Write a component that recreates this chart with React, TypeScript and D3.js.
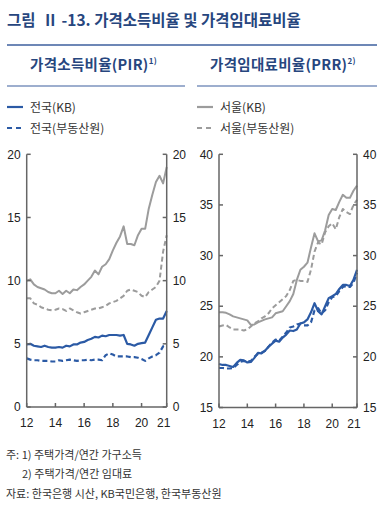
import * as d3 from "d3";

// 분기 라벨 (12Q1 ~ 21Q4)
const periods = d3.range(12, 22).flatMap((y) => [1, 2, 3, 4].map((q) => `${y}Q${q}`));
const xTickKeys = ["12Q1", "14Q1", "16Q1", "18Q1", "20Q1", "21Q4"];
const xTickLabels = ["12", "14", "16", "18", "20", "21"];

const pirTicks = [0, 5, 10, 15, 20];
const prrTicks = [15, 20, 25, 30, 35, 40];

// 가격소득비율(PIR)
const pirNationKB = [
  4.95, 5.0, 4.85, 4.8, 4.75, 4.85, 4.75, 4.7, 4.7, 4.75,
  4.7, 4.85, 4.8, 4.95, 4.95, 5.1, 5.15, 5.3, 5.4, 5.55,
  5.5, 5.65, 5.6, 5.7, 5.7, 5.7, 5.65, 5.7, 5.0, 4.95,
  4.85, 5.0, 5.05, 5.1, 5.7, 6.3, 6.9, 7.0, 7.0, 7.6,
];
const pirNationREB = [
  3.85, 3.75, 3.7, 3.7, 3.65, 3.65, 3.65, 3.6, 3.6, 3.7,
  3.65, 3.7, 3.75, 3.7, 3.65, 3.7, 3.7, 3.75, 3.7, 3.75,
  3.75, 3.7, 4.1, 4.25, 4.15, 4.0, 4.0, 4.0, 4.0, 3.95,
  3.95, 3.9, 3.8, 3.65, 3.85, 4.0, 4.1, 4.3, 4.8, 4.9,
];
const pirSeoulKB = [
  10.0, 10.1, 9.7, 9.5, 9.4, 9.3, 9.1, 9.0, 9.0, 9.2,
  8.95, 9.2, 9.0, 9.3, 9.25, 9.5, 9.7, 10.0, 10.3, 10.8,
  10.5, 11.1, 11.3, 11.7, 12.4, 13.0, 13.5, 14.3, 12.9, 12.9,
  12.8, 13.6, 14.1, 14.1, 15.7, 16.8, 17.8, 18.3, 17.7, 19.0,
];
const pirSeoulREB = [
  8.6, 8.6, 8.2, 8.1, 7.9, 7.8, 7.7, 7.65, 7.7, 7.8,
  7.75, 7.6, 7.8, 7.65, 7.5, 7.4, 7.5, 7.6, 7.7, 7.8,
  7.8, 7.9, 8.0, 8.2, 8.3, 8.4, 8.6, 8.8, 9.2, 9.3,
  9.2, 9.1, 8.8, 8.7, 9.1, 9.3, 9.5, 10.0, 12.3, 13.6,
];

// 가격임대료비율(PRR)
const prrNationKB = [
  19.3, 19.2, 19.2, 19.1, 19.0, 19.4, 19.7, 19.65, 19.45, 19.5,
  19.9, 20.4, 20.35, 20.6, 21.0, 21.3, 21.6, 21.5, 21.9, 22.2,
  22.6, 22.55, 22.7, 23.3, 23.4, 23.7, 24.4, 25.3, 24.5, 24.2,
  25.0, 25.8, 26.0, 26.2, 26.7, 27.1, 27.1, 27.0, 27.6, 28.6,
];
const prrNationREB = [
  18.9, 18.9, 18.85, 18.85, 18.9, 19.2, 19.5, 19.6, 19.5, 19.6,
  20.0, 20.3, 20.4, 20.6, 21.0, 21.4, 21.7, 21.6, 22.0, 22.4,
  22.9, 23.0, 23.2, 23.3, 23.1, 23.1, 23.4, 24.6, 24.8, 24.3,
  24.6, 25.4, 25.9, 26.0, 26.5, 26.9, 27.0, 26.9, 27.3, 28.3,
];
const prrSeoulKB = [
  24.4, 24.4, 24.35, 24.2, 24.0, 23.9, 23.8, 23.7, 23.6, 23.15,
  23.2, 23.4, 23.55, 23.7, 23.8, 23.9, 24.3, 24.4, 24.5, 25.0,
  25.5, 26.2, 27.6, 28.6, 28.9, 29.3, 30.8, 32.2, 31.4, 31.5,
  32.5, 34.0, 34.6, 34.5, 35.3, 36.0, 35.7, 35.7, 36.4, 36.9,
];
const prrSeoulREB = [
  23.0, 23.1, 23.15, 22.9, 22.7, 22.7, 22.7, 22.6, 22.7, 23.0,
  23.3, 23.5, 23.8, 24.0, 24.3, 24.8, 25.1, 25.4, 25.7, 26.0,
  26.6, 27.5, 27.6, 27.5, 27.5, 27.4, 28.6, 30.4, 31.3, 31.1,
  32.3, 32.9, 33.2, 32.6, 33.8, 34.6, 34.3, 34.1, 35.0, 35.5,
];

const BLUE = "#2b5aa5";
const GRAY = "#9c9c9c";
const NAVY = "#27467e";
const AXIS = "#666";
const KR = "'Noto Sans CJK KR', 'Noto Sans', sans-serif";
const NUM = "'Liberation Sans Narrow', 'Liberation Sans', Arial, sans-serif";

interface Series {
  values: number[];
  color: string;
  dashed: boolean;
}

interface PanelProps {
  x0: number;
  x1: number;
  yTop: number;
  yBottom: number;
  domain: [number, number];
  ticks: number[];
  series: Series[];
}

const Panel = ({ x0, x1, yTop, yBottom, domain, ticks, series }: PanelProps) => {
  const x = d3.scalePoint<string>().domain(periods).range([x0, x1]);
  const y = d3.scaleLinear().domain(domain).range([yBottom, yTop]);
  const line = d3
    .line<number>()
    .x((_, i) => x(periods[i])!)
    .y((d) => y(d));

  return (
    <g>
      {series.map((s, i) => (
        <path
          key={i}
          d={line(s.values) || ""}
          fill="none"
          stroke={s.color}
          strokeWidth={s.color === BLUE ? 2.2 : 2}
          strokeDasharray={s.dashed ? "5,3" : undefined}
          strokeLinejoin="round"
        />
      ))}
      {/* 축 */}
      <line x1={x0} x2={x0} y1={yTop} y2={yBottom} stroke={AXIS} strokeWidth={1.5} />
      <line x1={x1} x2={x1} y1={yTop} y2={yBottom} stroke={AXIS} strokeWidth={1.5} />
      <line x1={x0} x2={x1} y1={yBottom} y2={yBottom} stroke={AXIS} strokeWidth={1.5} />
      {ticks.map((t) => (
        <g key={t}>
          <line x1={x0} x2={x0 + 4} y1={y(t)} y2={y(t)} stroke={AXIS} strokeWidth={1.5} />
          <line x1={x1 - 4} x2={x1} y1={y(t)} y2={y(t)} stroke={AXIS} strokeWidth={1.5} />
          <text x={x0 - 6} y={y(t)} dy="0.35em" textAnchor="end" fontSize={12} fontFamily={NUM} fill="#222">
            {t}
          </text>
          <text x={x1 + 6} y={y(t)} dy="0.35em" textAnchor="start" fontSize={12} fontFamily={NUM} fill="#222">
            {t}
          </text>
        </g>
      ))}
      {xTickKeys.map((k, i) => (
        <g key={k}>
          <line x1={x(k)!} x2={x(k)!} y1={yBottom} y2={yBottom - 4} stroke={AXIS} strokeWidth={1.5} />
          <text x={x(k)! - (i === xTickKeys.length - 1 ? 3 : 0)} y={yBottom + 20} textAnchor="middle" fontSize={12} fontFamily={NUM} fill="#222">
            {xTickLabels[i]}
          </text>
        </g>
      ))}
    </g>
  );
};

const LegendItem = ({ x, y, color, dashed, label }: { x: number; y: number; color: string; dashed: boolean; label: string }) => (
  <g>
    <line x1={x} x2={x + 16} y1={y} y2={y} stroke={color} strokeWidth={2.2} strokeDasharray={dashed ? "5,4" : undefined} />
    <text x={x + 23} y={y + 4.5} fontSize={12} fontFamily={KR} fill="#333">
      {label}
    </text>
  </g>
);

const App = () => {
  return (
    <svg width={391} height={516} style={{ position: "absolute", left: 0, top: 0, background: "#fff" }}>
      <text x={7} y={26} fontSize={15.5} fontWeight="bold" fontFamily={KR} fill={NAVY}>
        {"그림\u00a0\u00a0Ⅱ\u00a0-13. 가격소득비율 및 가격임대료비율"}
      </text>
      <line x1={7} x2={377} y1={45} y2={45} stroke="#3d5f9e" strokeWidth={1.5} />

      <text x={30} y={70} fontSize={14.5} fontWeight="bold" fontFamily={KR} fill={NAVY} letterSpacing={0.3}>
        가격소득비율(PIR)
        <tspan fontSize={8} dy={-6}>1)</tspan>
      </text>
      <text x={210} y={70} fontSize={14.5} fontWeight="bold" fontFamily={KR} fill={NAVY} letterSpacing={0.3}>
        가격임대료비율(PRR)
        <tspan fontSize={8} dy={-6}>2)</tspan>
      </text>
      <line x1={7} x2={185} y1={86} y2={86} stroke="#3d5f9e" strokeWidth={1.2} />
      <line x1={197} x2={377} y1={86} y2={86} stroke="#3d5f9e" strokeWidth={1.2} />

      <LegendItem x={7} y={107} color={BLUE} dashed={false} label="전국(KB)" />
      <LegendItem x={7} y={128} color={BLUE} dashed={true} label="전국(부동산원)" />
      <LegendItem x={197} y={107} color={GRAY} dashed={false} label="서울(KB)" />
      <LegendItem x={197} y={128} color={GRAY} dashed={true} label="서울(부동산원)" />

      <Panel
        x0={26.7}
        x1={166.7}
        yTop={154.3}
        yBottom={407}
        domain={[0, 20]}
        ticks={pirTicks}
        series={[
          { values: pirSeoulREB, color: GRAY, dashed: true },
          { values: pirSeoulKB, color: GRAY, dashed: false },
          { values: pirNationREB, color: BLUE, dashed: true },
          { values: pirNationKB, color: BLUE, dashed: false },
        ]}
      />
      <Panel
        x0={219}
        x1={357}
        yTop={154.3}
        yBottom={407.5}
        domain={[15, 40]}
        ticks={prrTicks}
        series={[
          { values: prrSeoulREB, color: GRAY, dashed: true },
          { values: prrSeoulKB, color: GRAY, dashed: false },
          { values: prrNationREB, color: BLUE, dashed: true },
          { values: prrNationKB, color: BLUE, dashed: false },
        ]}
      />

      <g fontSize={11} fontFamily={KR} fill="#333">
        <text x={6} y={459}>주: 1) 주택가격/연간 가구소득</text>
        <text x={22} y={478}>2) 주택가격/연간 임대료</text>
        <text x={6} y={498}>자료: 한국은행 시산, KB국민은행, 한국부동산원</text>
      </g>
    </svg>
  );
};

export default App;
